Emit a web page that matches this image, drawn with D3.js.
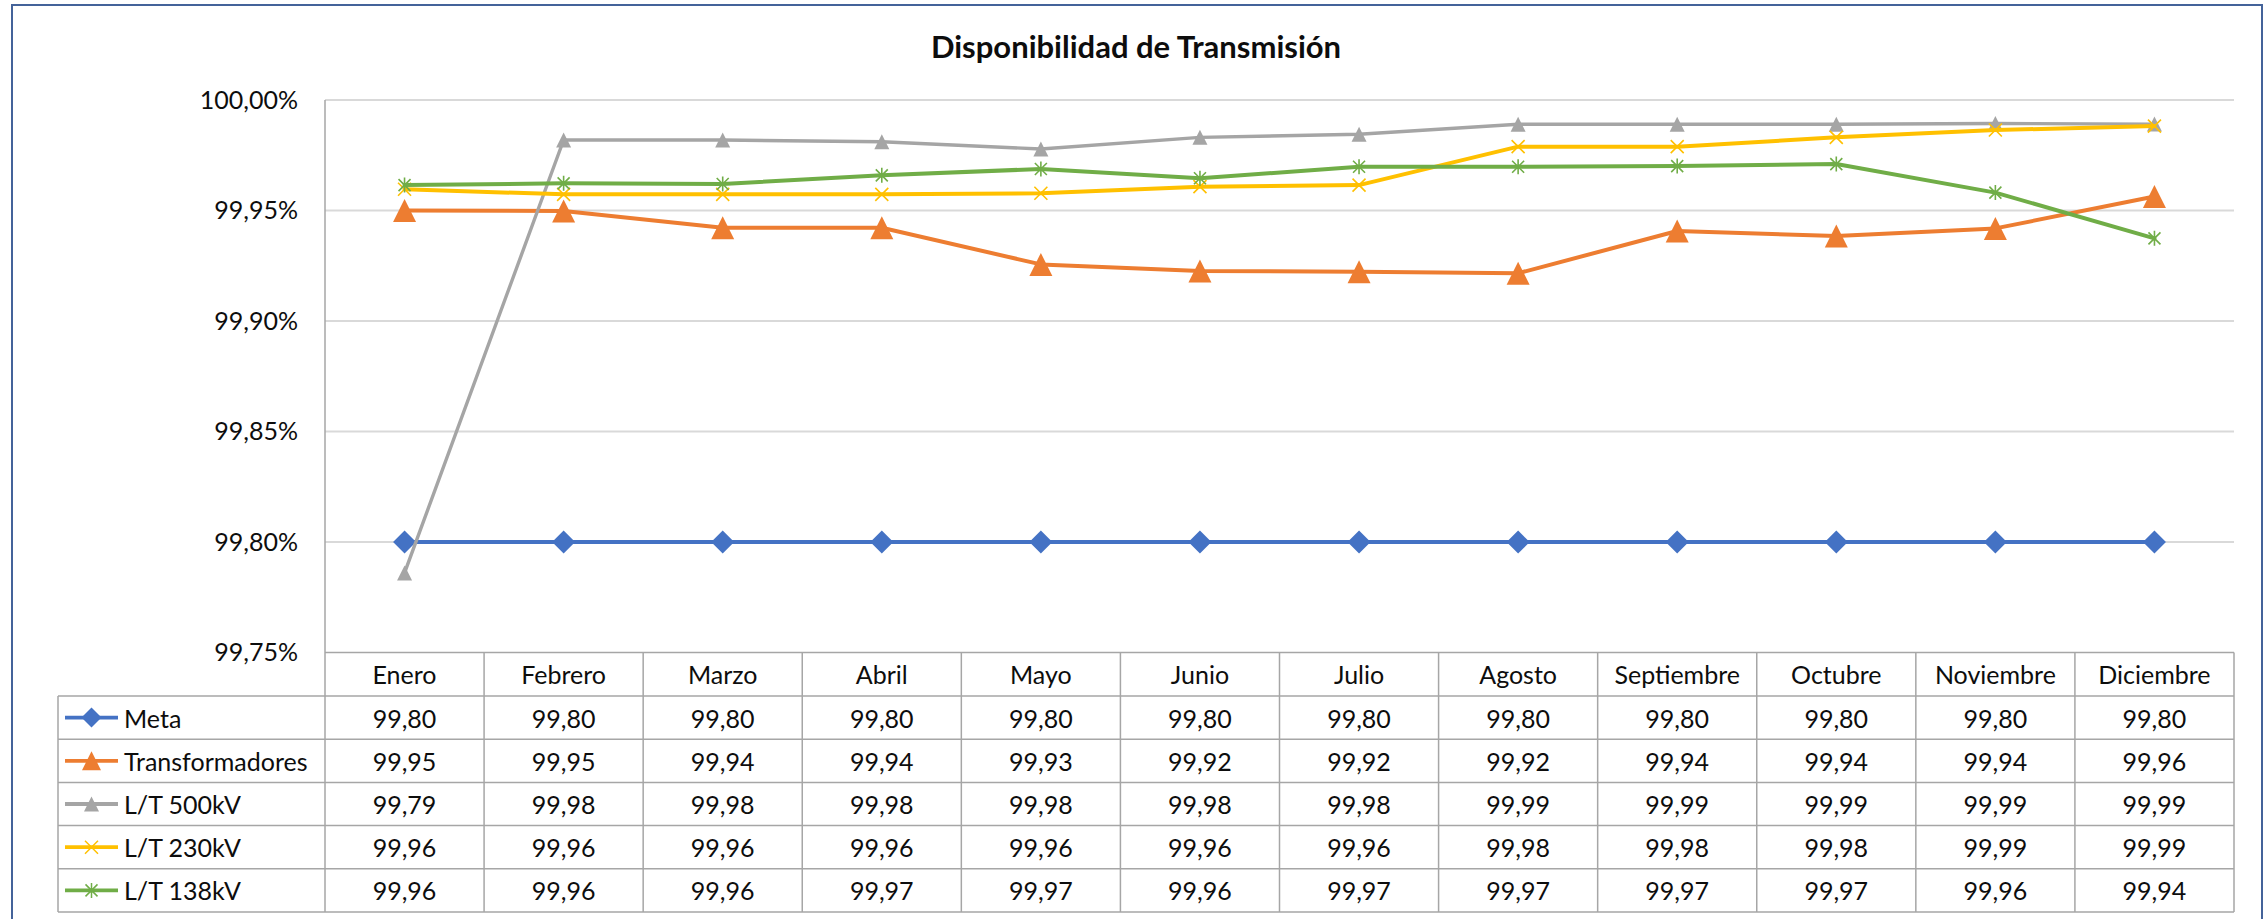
<!DOCTYPE html>
<html><head><meta charset="utf-8">
<script src="https://cdn.jsdelivr.net/npm/d3@7"></script>
<style>
body{margin:0;background:#fff}
svg{display:block}
text{font-family:Lato,'Open Sans',sans-serif;fill:#0d0d0d}
</style>
</head><body>
<svg id="chart" width="2267" height="919"></svg>
<script>
const chartTitle = "Disponibilidad de Transmisión";
const months = ["Enero","Febrero","Marzo","Abril","Mayo","Junio","Julio","Agosto","Septiembre","Octubre","Noviembre","Diciembre"];
const seriesNames = ["Meta","Transformadores","L/T 500kV","L/T 230kV","L/T 138kV"];
const meta            = [99.80,99.80,99.80,99.80,99.80,99.80,99.80,99.80,99.80,99.80,99.80,99.80];
const transformadores = [99.950,99.9498,99.9422,99.9422,99.9256,99.9226,99.9223,99.9216,99.9407,99.9385,99.9419,99.9563];
const lt500           = [99.786,99.9819,99.9819,99.9811,99.9778,99.9831,99.9845,99.9890,99.9890,99.9890,99.9894,99.9891];
const lt230           = [99.9596,99.9573,99.9573,99.9573,99.9578,99.9608,99.9615,99.9789,99.9789,99.9831,99.9864,99.9882];
const lt138           = [99.9615,99.9623,99.9620,99.9659,99.9688,99.9646,99.9698,99.9698,99.9701,99.9710,99.9581,99.9374];
const yTicks = [99.75,99.80,99.85,99.90,99.95,100.00];
const seriesColors = ["#4472C4","#ED7D31","#A5A5A5","#FFC000","#70AD47"];

const seriesValues = [meta, transformadores, lt500, lt230, lt138];

// custom marker shapes
const symTri = {draw(ctx,size){const r=Math.sqrt(size)/2;ctx.moveTo(0,-r);ctx.lineTo(r,r);ctx.lineTo(-r,r);ctx.closePath();}};
const symDia = {draw(ctx,size){const r=Math.sqrt(size)/2;ctx.moveTo(0,-r);ctx.lineTo(r,0);ctx.lineTo(0,r);ctx.lineTo(-r,0);ctx.closePath();}};
const symX = {draw(ctx,size){const r=Math.sqrt(size)/2;ctx.moveTo(-r,-r);ctx.lineTo(r,r);ctx.moveTo(r,-r);ctx.lineTo(-r,r);}};
const symStar = {draw(ctx,size){const r=Math.sqrt(size)/2;ctx.moveTo(-r,-r);ctx.lineTo(r,r);ctx.moveTo(r,-r);ctx.lineTo(-r,r);ctx.moveTo(0,-r*1.25);ctx.lineTo(0,r*1.25);}};
const markerDefs = [
  {type:symDia, size:23*23, fill:true},
  {type:symTri, size:23*23, fill:true},
  {type:symTri, size:15*15, fill:true},
  {type:symX, size:13*13, fill:false},
  {type:symStar, size:12*12, fill:false}
];

const svg = d3.select("#chart");
const L = 325, R = 2234, T = 100, B = 652.5;
const tableLeft = 58, headerBottom = 696, tableBottom = 912;

const x = d3.scaleBand().domain(months).range([L,R]).padding(0);
const y = d3.scaleLinear().domain([99.75,100]).range([B,T]);
const rowY = d3.scaleBand().domain(seriesNames).range([headerBottom,tableBottom]).padding(0);

const loc = d3.formatLocale({decimal:",",thousands:".",grouping:[3],currency:["",""]});
const fmtTick = d => loc.format(".2f")(d) + "%";
const fmtVal = loc.format(".2f");

// outer border
svg.append("rect").attr("x",12).attr("y",5).attr("width",2250).attr("height",940)
  .attr("fill","none").attr("stroke","#44639a").attr("stroke-width",2);

// title
svg.append("text").attr("x",1136).attr("y",46).attr("text-anchor","middle").attr("dominant-baseline","central")
  .style("font-weight","700").style("font-size","31px").text(chartTitle);

// gridlines
svg.append("g").selectAll("line").data(yTicks.filter(d=>d>99.75)).join("line")
  .attr("x1",L).attr("x2",R).attr("y1",d=>y(d)).attr("y2",d=>y(d))
  .attr("stroke","#d9d9d9").attr("stroke-width",2);

// y axis labels
const yAxis = svg.append("g").attr("transform",`translate(${L-27},0)`)
  .call(d3.axisLeft(y).tickValues(yTicks).tickFormat(fmtTick).tickSize(0).tickPadding(0));
yAxis.select(".domain").remove();
yAxis.selectAll("text").style("font-size","25px").style("font-family","Lato,'Open Sans',sans-serif").attr("fill","#0d0d0d");

// vertical axis line
svg.append("line").attr("x1",L).attr("x2",L).attr("y1",T).attr("y2",tableBottom)
  .attr("stroke","#a6a6a6").attr("stroke-width",1.5);

// table grid
const tg = svg.append("g").attr("stroke","#a6a6a6").attr("stroke-width",1.5);
tg.append("line").attr("x1",L).attr("x2",R).attr("y1",B).attr("y2",B);
tg.selectAll(".hr").data(seriesNames).join("line")
  .attr("x1",tableLeft).attr("x2",R).attr("y1",d=>rowY(d)).attr("y2",d=>rowY(d));
tg.append("line").attr("x1",tableLeft).attr("x2",R).attr("y1",tableBottom).attr("y2",tableBottom);
tg.selectAll(".vr").data(months).join("line")
  .attr("x1",d=>x(d)+x.bandwidth()).attr("x2",d=>x(d)+x.bandwidth()).attr("y1",B).attr("y2",tableBottom);
tg.append("line").attr("x1",tableLeft).attr("x2",tableLeft).attr("y1",headerBottom).attr("y2",tableBottom);

// month headers
svg.append("g").selectAll("text").data(months).join("text")
  .attr("x",d=>x(d)+x.bandwidth()/2).attr("y",(B+headerBottom)/2).attr("text-anchor","middle")
  .attr("dominant-baseline","central").style("font-size","25px").text(d=>d);

// table values
seriesNames.forEach((name,si)=>{
  svg.append("g").selectAll("text").data(seriesValues[si]).join("text")
    .attr("x",(d,i)=>x(months[i])+x.bandwidth()/2).attr("y",rowY(name)+rowY.bandwidth()/2)
    .attr("text-anchor","middle").attr("dominant-baseline","central").style("font-size","25px")
    .text(d=>fmtVal(d));
});

// legend keys in table
seriesNames.forEach((name,si)=>{
  const cy = rowY(name)+rowY.bandwidth()/2;
  const g = svg.append("g");
  g.append("line").attr("x1",65).attr("x2",118).attr("y1",cy).attr("y2",cy)
    .attr("stroke",seriesColors[si]).attr("stroke-width",3.8);
  const m = markerDefs[si];
  g.append("path").attr("transform",`translate(91.5,${cy})`)
    .attr("d",d3.symbol().type(m.type).size(si===1?19*19:(si===0?20*20:m.size))())
    .attr("fill",m.fill?seriesColors[si]:"none").attr("stroke",seriesColors[si]).attr("stroke-width",m.fill?0:1.5);
  g.append("text").attr("x",124).attr("y",cy).attr("dominant-baseline","central")
    .style("font-size","25px").text(name);
});

// lines and markers
const line = d3.line().x((d,i)=>x(months[i])+x.bandwidth()/2).y(d=>y(d));
seriesNames.forEach((name,si)=>{
  const g = svg.append("g");
  g.append("path").datum(seriesValues[si]).attr("d",line).attr("fill","none")
    .attr("stroke",seriesColors[si]).attr("stroke-width",si===2?3.4:4)
    .attr("stroke-linejoin","round").attr("stroke-linecap","round");
  const m = markerDefs[si];
  g.selectAll("path.mk").data(seriesValues[si]).join("path").attr("class","mk")
    .attr("transform",(d,i)=>`translate(${x(months[i])+x.bandwidth()/2},${y(d)})`)
    .attr("d",d3.symbol().type(m.type).size(m.size)())
    .attr("fill",m.fill?seriesColors[si]:"none").attr("stroke",seriesColors[si]).attr("stroke-width",m.fill?0:1.6);
});
</script>
</body></html>
